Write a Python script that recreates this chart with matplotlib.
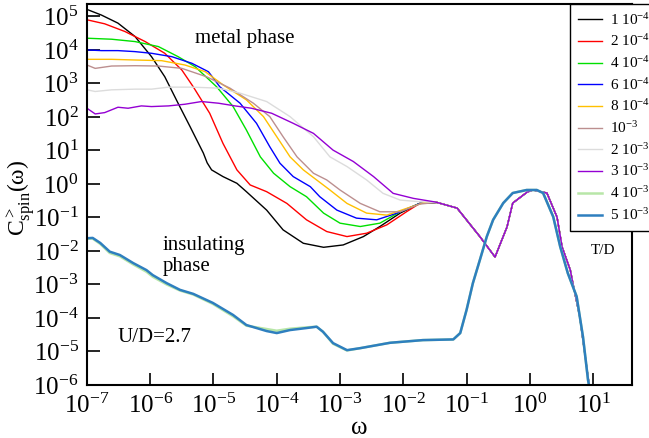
import numpy as np
import matplotlib
matplotlib.use("Agg")
import matplotlib.pyplot as plt

# C>_spin(w) for U/D=2.7, values read as log10 pairs (log10 w, log10 C)

temps = ["1 10$^{-4}$", "2 10$^{-4}$", "4 10$^{-4}$", "6 10$^{-4}$", "8 10$^{-4}$",
         "10$^{-3}$", "2 10$^{-3}$", "3 10$^{-3}$", "4 10$^{-3}$", "5 10$^{-3}$"]
colors = ["black", "red", "#00e000", "blue", "#ffc000",
          "#bc8f8f", "#dcdcdc", "#9400d3", "#b8e6a8", "#2e7fbf"]

# metal phase, low-frequency part of each curve
lw_t1 = [-7.00, -6.77, -6.51, -6.24, -5.98, -5.77, -5.56, -5.37, -5.16, -5.10, -5.03, -4.85, -4.63,
         -4.48, -4.16, -3.90, -3.58, -3.26, -2.95, -2.63, -2.37, -2.05, -1.74]
lc_t1 = [5.21, 5.04, 4.80, 4.40, 3.80, 3.20, 2.41, 1.71, 0.92, 0.63, 0.42, 0.22, 0.02,
         -0.23, -0.78, -1.37, -1.77, -1.89, -1.82, -1.57, -1.27, -0.87, -0.58]

lw_t2 = [-7.00, -6.72, -6.40, -6.08, -5.77, -5.50, -5.32, -5.06, -4.85, -4.63, -4.42, -4.16,
         -3.84, -3.53, -3.21, -2.89, -2.58, -2.26, -1.95, -1.74]
lc_t2 = [4.90, 4.78, 4.55, 4.25, 3.90, 3.40, 2.90, 2.11, 1.21, 0.42, -0.03, -0.23,
         -0.58, -1.07, -1.42, -1.57, -1.47, -1.22, -0.83, -0.58]

lw_t4 = [-7.00, -6.61, -6.24, -5.87, -5.56, -5.29, -4.95, -4.69, -4.48, -4.26, -4.05, -3.79,
         -3.53, -3.26, -3.00, -2.68, -2.37, -2.05, -1.74]
lc_t4 = [4.35, 4.32, 4.25, 4.10, 3.80, 3.50, 2.90, 2.31, 1.61, 0.81, 0.32, -0.08,
         -0.38, -0.87, -1.17, -1.27, -1.17, -0.83, -0.58]

lw_t6 = [-7.00, -6.77, -6.51, -6.24, -5.98, -5.66, -5.34, -5.08, -4.90, -4.58, -4.32, -4.11,
         -3.95, -3.74, -3.47, -3.32, -3.05, -2.74, -2.42, -2.10, -1.74]
lc_t6 = [4.00, 3.98, 3.98, 3.95, 3.90, 3.80, 3.60, 3.35, 2.90, 2.41, 1.81, 1.11,
         0.62, 0.22, -0.08, -0.38, -0.78, -1.02, -1.07, -0.87, -0.58]

lw_t8 = [-7.00, -6.61, -6.24, -5.82, -5.45, -5.13, -4.85, -4.48, -4.21, -4.00, -3.79, -3.58,
         -3.37, -3.16, -2.89, -2.58, -2.26, -1.95, -1.68]
lc_t8 = [3.72, 3.72, 3.70, 3.68, 3.55, 3.35, 2.96, 2.51, 2.01, 1.41, 0.81, 0.42,
         0.12, -0.18, -0.58, -0.87, -0.93, -0.73, -0.56]

lw_t10 = [-7.00, -6.87, -6.61, -6.24, -5.87, -5.50, -5.11, -4.74, -4.37, -4.11, -3.90, -3.68,
          -3.42, -3.21, -3.00, -2.68, -2.37, -2.05, -1.74]
lc_t10 = [3.55, 3.45, 3.52, 3.53, 3.52, 3.45, 3.20, 2.86, 2.41, 2.01, 1.41, 0.81,
          0.32, 0.12, -0.18, -0.58, -0.83, -0.83, -0.60]

lw_t20 = [-7.00, -6.87, -6.61, -6.24, -5.98, -5.71, -5.34, -4.92, -4.58, -4.16, -3.79, -3.42,
          -3.16, -2.89, -2.58, -2.32, -2.05, -1.74]
lc_t20 = [2.81, 2.76, 2.81, 2.83, 2.83, 2.89, 2.89, 2.86, 2.71, 2.46, 2.01, 1.41,
          0.81, 0.52, 0.12, -0.28, -0.48, -0.53]

lw_t30 = [-7.00, -6.87, -6.72, -6.51, -6.35, -6.14, -5.98, -5.71, -5.45, -5.19, -4.92, -4.66,
          -4.40, -4.08, -3.74, -3.42, -3.11, -2.79, -2.47, -2.16, -1.84, -1.52]
lc_t30 = [2.26, 2.09, 2.13, 2.29, 2.26, 2.33, 2.31, 2.33, 2.38, 2.46, 2.41, 2.33,
          2.26, 2.11, 1.81, 1.51, 1.01, 0.67, 0.22, -0.28, -0.43, -0.53]

# shared high-frequency part of the metallic curves
tail_lw = [-1.47, -1.15, -0.79, -0.55, -0.36, -0.27, -0.04, 0.05, 0.27, 0.43,
           0.51, 0.64, 0.68, 0.79, 0.92, 0.95]
tail_lc = [-0.55, -0.72, -1.57, -2.18, -1.28, -0.57, -0.24, -0.18, -0.27, -0.99,
           -1.88, -2.57, -2.96, -3.97, -5.76, -6.16]

# insulating phase (T/D = 5 10^-3)
lw_t50 = [-7.00, -6.91, -6.79, -6.64, -6.48, -6.27, -6.06, -5.96, -5.74, -5.53, -5.32, -5.01,
          -4.69, -4.48, -4.16, -4.00, -3.79, -3.53, -3.37, -3.27, -3.11, -2.89, -2.68, -2.21,
          -1.69, -1.21, -1.10, -1.00, -0.90, -0.79, -0.68, -0.58, -0.42, -0.27, -0.05, 0.11,
          0.21, 0.37, 0.48, 0.60, 0.74, 0.84, 0.92, 0.95]
lc_t50 = [-1.62, -1.61, -1.76, -2.02, -2.12, -2.36, -2.57, -2.72, -2.96, -3.16, -3.28, -3.55,
          -3.91, -4.21, -4.39, -4.45, -4.36, -4.30, -4.26, -4.41, -4.75, -4.96, -4.90, -4.74,
          -4.66, -4.64, -4.45, -3.76, -2.96, -2.27, -1.57, -1.07, -0.57, -0.27, -0.18, -0.18,
          -0.27, -0.98, -1.87, -2.66, -3.36, -4.56, -5.85, -6.16]
# T/D = 4 10^-3 sits almost on top of it
lc_t40 = [-1.63, -1.63, -1.79, -2.06, -2.16, -2.40, -2.62, -2.77, -3.00, -3.18, -3.30, -3.58,
          -3.95, -4.23, -4.33, -4.38, -4.32, -4.28, -4.26, -4.41, -4.77, -4.97, -4.90, -4.74,
          -4.66, -4.64, -4.45, -3.76, -2.96, -2.27, -1.57, -1.07, -0.57, -0.27, -0.18, -0.18,
          -0.27, -0.98, -1.87, -2.66, -3.36, -4.56, -5.85, -6.16]

metal = [(lw_t1, lc_t1), (lw_t2, lc_t2), (lw_t4, lc_t4), (lw_t6, lc_t6), (lw_t8, lc_t8),
         (lw_t10, lc_t10), (lw_t20, lc_t20), (lw_t30, lc_t30)]

plt.rcParams["font.family"] = "Liberation Serif"
plt.rcParams["mathtext.fontset"] = "custom"
plt.rcParams["mathtext.rm"] = "Liberation Serif"
plt.rcParams["mathtext.it"] = "Liberation Serif:italic"

fig = plt.figure(figsize=(6.49, 4.38), dpi=100)
ax = fig.add_axes([0.134, 0.121, 0.840, 0.870])

for i, (xs, ys) in enumerate(metal):
    x = np.power(10.0, np.concatenate([xs, tail_lw]))
    y = np.power(10.0, np.concatenate([ys, tail_lc]))
    ax.plot(x, y, color=colors[i], lw=1.0, label=temps[i])

ax.plot(10.0 ** np.array(lw_t50), 10.0 ** np.array(lc_t40), color=colors[8], lw=1.8, label=temps[8])
ax.plot(10.0 ** np.array(lw_t50), 10.0 ** np.array(lc_t50), color=colors[9], lw=1.8, label=temps[9])

ax.set_xscale("log")
ax.set_yscale("log")
ax.set_xlim(1e-7, 41.4)
ax.set_ylim(1e-6, 10 ** 5.373)
ax.set_xticks([10.0 ** k for k in range(-7, 2)])
ax.set_yticks([10.0 ** k for k in range(-6, 6)])
ax.minorticks_off()
ax.tick_params(direction="in", length=9, width=1.2, labelsize=18, pad=6)
for s in ax.spines.values():
    s.set_linewidth(1.5)

ax.set_xlabel("ω", fontsize=18)
ax.xaxis.set_label_coords(0.50, -0.085)
ax.set_ylabel(r"C$^{>}_{\mathrm{spin}}$(ω)", fontsize=17)
ax.yaxis.set_label_coords(-0.092, 0.49)

fig.text(245 / 649, 1 - 38 / 438, "metal phase", fontsize=15, ha="center", va="center")
fig.text(163 / 649, 1 - 256 / 438, "insulating\nphase", fontsize=15, ha="left", va="center",
         linespacing=1.1)
fig.text(118 / 649, 1 - 337 / 438, "U/D=2.7", fontsize=15, ha="left", va="center")
fig.text(603 / 649, 1 - 250 / 438, "T/D", fontsize=11, ha="center", va="center")

leg = fig.legend(loc="upper left", bbox_to_anchor=(570 / 649, 1 - 4 / 438), fontsize=11,
                 frameon=True, fancybox=False, framealpha=1, edgecolor="black",
                 handlelength=1.6, handletextpad=0.5, labelspacing=0.38, borderaxespad=0,
                 borderpad=0.5)
leg.get_frame().set_linewidth(1.0)

fig.savefig("out.png", dpi=100)
